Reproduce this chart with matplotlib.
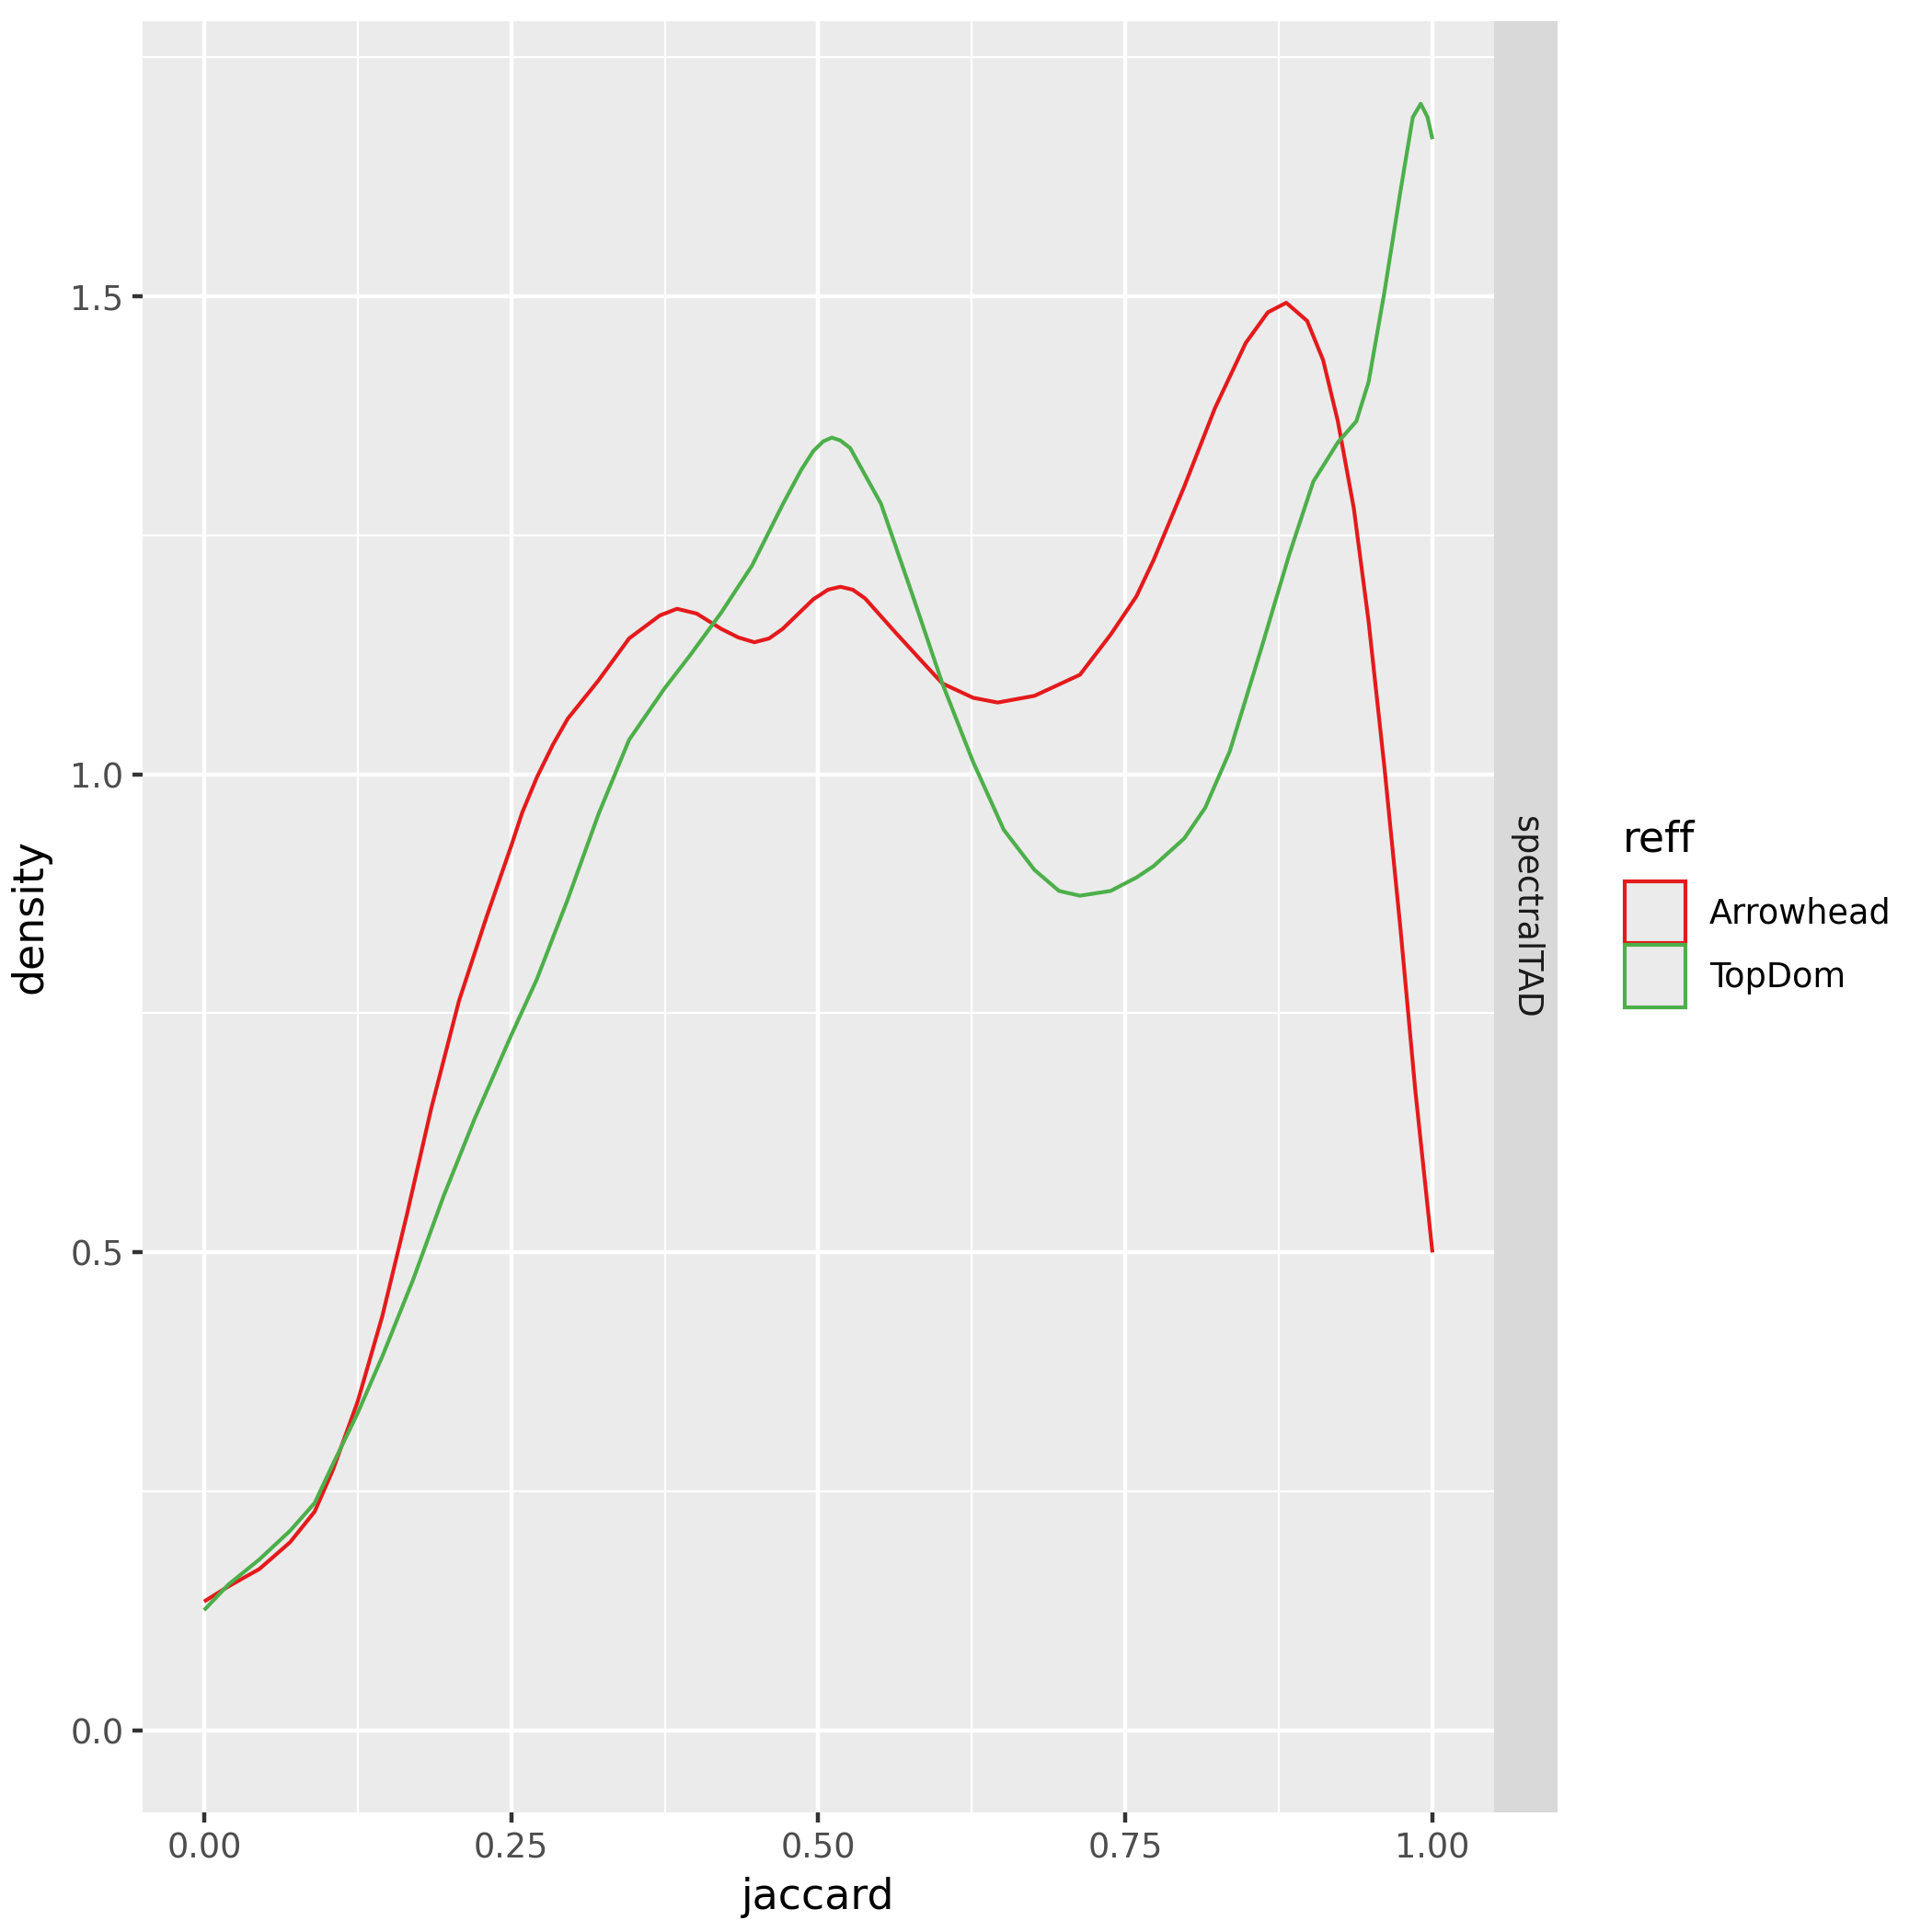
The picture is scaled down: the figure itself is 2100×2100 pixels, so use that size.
import matplotlib
matplotlib.use("Agg")
import matplotlib.pyplot as plt
from matplotlib.patches import Rectangle

# density curves
x_arrow = [0.0, 0.02, 0.045, 0.07, 0.09, 0.105, 0.125, 0.145, 0.165, 0.185,
           0.2075, 0.23, 0.25, 0.259, 0.271, 0.284, 0.296, 0.321, 0.346, 0.371,
           0.385, 0.401, 0.421, 0.435, 0.448, 0.46, 0.471, 0.496, 0.508, 0.518,
           0.528, 0.538, 0.563, 0.588, 0.601, 0.626, 0.646, 0.676, 0.713, 0.738,
           0.759, 0.773, 0.798, 0.823, 0.848, 0.866, 0.881, 0.898, 0.911, 0.923,
           0.936, 0.948, 0.961, 0.974, 0.986, 1.0]
y_arrow = [0.135, 0.151, 0.169, 0.197, 0.229, 0.273, 0.344, 0.433, 0.539, 0.651,
           0.763, 0.851, 0.925, 0.96, 0.997, 1.031, 1.058, 1.098, 1.142, 1.166,
           1.173, 1.168, 1.152, 1.143, 1.138, 1.142, 1.152, 1.183, 1.193, 1.196,
           1.193, 1.184, 1.148, 1.113, 1.095, 1.08, 1.075, 1.082, 1.104, 1.146,
           1.186, 1.224, 1.301, 1.383, 1.451, 1.483, 1.493, 1.474, 1.433, 1.369,
           1.278, 1.16, 1.006, 0.838, 0.67, 0.5]

x_topdom = [0.0, 0.02, 0.045, 0.07, 0.09, 0.105, 0.125, 0.145, 0.17, 0.195,
            0.22, 0.25, 0.271, 0.296, 0.321, 0.346, 0.375, 0.396, 0.421, 0.446,
            0.471, 0.486, 0.496, 0.504, 0.511, 0.518, 0.526, 0.551, 0.576, 0.601,
            0.626, 0.651, 0.676, 0.696, 0.713, 0.738, 0.759, 0.773, 0.798, 0.815,
            0.835, 0.861, 0.883, 0.903, 0.923, 0.938, 0.948, 0.961, 0.974, 0.984,
            0.9905, 0.996, 1.0]
y_topdom = [0.126, 0.153, 0.179, 0.209, 0.238, 0.279, 0.332, 0.391, 0.471, 0.559,
            0.639, 0.727, 0.786, 0.869, 0.958, 1.036, 1.09, 1.125, 1.169, 1.218,
            1.282, 1.318, 1.338, 1.348, 1.352, 1.349, 1.341, 1.283, 1.19, 1.095,
            1.013, 0.942, 0.9, 0.878, 0.873, 0.878, 0.892, 0.904, 0.933, 0.965,
            1.024, 1.133, 1.228, 1.306, 1.347, 1.369, 1.41, 1.505, 1.61, 1.687,
            1.701, 1.687, 1.664]

groups = ["Arrowhead", "TopDom"]
colors = ["#E41A1C", "#4DAF4A"]

W = H = 2099
fig = plt.figure(figsize=(7, 7), dpi=300)
ax = fig.add_axes([155 / W, 1 - 1969 / H, (1623 - 155) / W, (1969 - 23) / H])
ax.set_facecolor("#EBEBEB")
for s in ax.spines.values():
    s.set_visible(False)

ax.plot(x_arrow, y_arrow, color=colors[0], lw=1.0, solid_capstyle="butt",
        solid_joinstyle="round", zorder=3)
ax.plot(x_topdom, y_topdom, color=colors[1], lw=1.0, solid_capstyle="butt",
        solid_joinstyle="round", zorder=3)

ax.set_xlim(-0.05, 1.05)
ax.set_ylim(-0.0854, 1.7874)
ax.set_xticks([0, 0.25, 0.5, 0.75, 1.0])
ax.set_xticklabels(["0.00", "0.25", "0.50", "0.75", "1.00"])
ax.set_yticks([0, 0.5, 1.0, 1.5])
ax.set_yticklabels(["0.0", "0.5", "1.0", "1.5"])
ax.set_xticks([0.125, 0.375, 0.625, 0.875], minor=True)
ax.set_yticks([0.25, 0.75, 1.25, 1.75], minor=True)
ax.grid(which="major", color="white", lw=1.07, zorder=1)
ax.grid(which="minor", color="white", lw=0.53, zorder=1)
ax.set_axisbelow(True)
ax.tick_params(which="major", length=2.75, width=1.07, color="#333333",
               labelsize=8.8, labelcolor="#4D4D4D", pad=2.2)
ax.tick_params(which="minor", length=0)
ax.set_xlabel("jaccard", fontsize=11, color="black", labelpad=3)
ax.set_ylabel("density", fontsize=11, color="black", labelpad=5)

# facet strip on the right
strip = fig.add_axes([1623 / W, 1 - 1969 / H, 69 / W, (1969 - 23) / H])
strip.set_facecolor("#D9D9D9")
strip.set_xticks([])
strip.set_yticks([])
for s in strip.spines.values():
    s.set_visible(False)
strip.text(0.5, 0.5, "spectralTAD", rotation=-90, ha="center", va="center",
           fontsize=8.8, color="#1A1A1A", transform=strip.transAxes)

# legend
fig.text(1763 / W, 1 - 913 / H, "reff", fontsize=11, ha="left", va="center")
key_tops = [958, 1027]
for g, c, top in zip(groups, colors, key_tops):
    fig.add_artist(Rectangle((1765 / W, 1 - (top + 67) / H), 66 / W, 67 / H,
                             transform=fig.transFigure, facecolor="#EBEBEB",
                             edgecolor=c, lw=1.0))
    fig.text(1857 / W, 1 - (top + 35) / H, g, fontsize=8.8, ha="left", va="center")

fig.savefig("out.png", dpi=300)
